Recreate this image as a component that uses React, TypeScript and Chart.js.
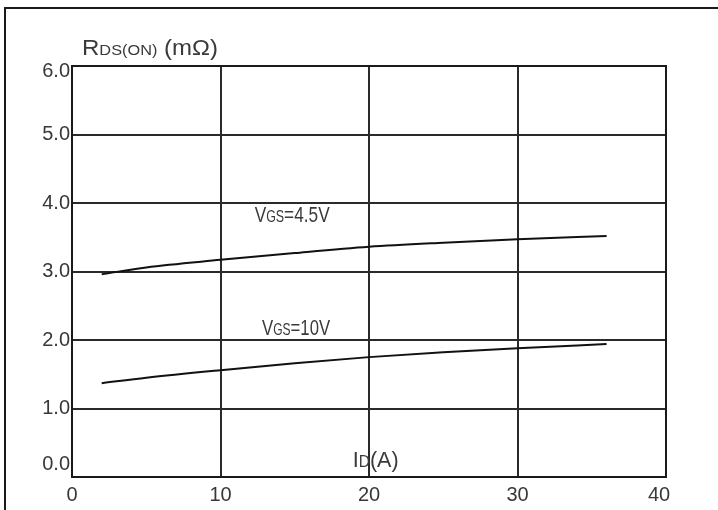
import React, { useEffect, useRef } from "react";
import { Chart, registerables } from "chart.js";

Chart.register(...registerables);

const xCurrent = [2, 5, 10, 15, 20, 25, 30, 36];
const rds45 = [2.96, 3.06, 3.17, 3.27, 3.36, 3.42, 3.47, 3.52];
const rds10 = [1.37, 1.45, 1.56, 1.66, 1.75, 1.82, 1.88, 1.94];
const xTicks = [0, 10, 20, 30, 40];
const yTicks = [0, 1, 2, 3, 4, 5, 6];

type Run = { t: string; s: number };
const titleRuns: Run[] = [
  { t: "R", s: 1 },
  { t: "DS(ON)", s: 0.68 },
  { t: " (mΩ)", s: 1 },
];
const label45: Run[] = [
  { t: "V", s: 1 },
  { t: "GS", s: 0.72 },
  { t: "=4.5V", s: 1 },
];
const label10: Run[] = [
  { t: "V", s: 1 },
  { t: "GS", s: 0.72 },
  { t: "=10V", s: 1 },
];
const labelId: Run[] = [
  { t: "I", s: 1 },
  { t: "D", s: 0.72 },
  { t: "(A)", s: 1 },
];

const FONT = "'Liberation Sans', Arial, sans-serif";
const TEXT = "#3a3a3a";

function drawRuns(ctx: CanvasRenderingContext2D, runs: Run[], x: number, y: number, size: number, width: number) {
  ctx.save();
  ctx.fillStyle = TEXT;
  ctx.textBaseline = "alphabetic";
  ctx.textAlign = "left";
  let natural = 0;
  for (const r of runs) {
    ctx.font = `${size * r.s}px ${FONT}`;
    natural += ctx.measureText(r.t).width;
  }
  ctx.translate(x, y);
  ctx.scale(width / natural, 1.12);
  let cx = 0;
  for (const r of runs) {
    ctx.font = `${size * r.s}px ${FONT}`;
    ctx.fillText(r.t, cx, 0);
    cx += ctx.measureText(r.t).width;
  }
  ctx.restore();
}

const annotations = {
  id: "annotations",
  beforeDraw(chart: any) {
    const ctx = chart.ctx as CanvasRenderingContext2D;
    ctx.save();
    ctx.fillStyle = "#ffffff";
    ctx.fillRect(0, 0, chart.width, chart.height);
    ctx.strokeStyle = "#1a1a1a";
    ctx.lineWidth = 2;
    ctx.beginPath();
    ctx.moveTo(5, chart.height);
    ctx.lineTo(5, 8);
    ctx.lineTo(chart.width, 8);
    ctx.stroke();
    ctx.restore();
    // nudge end tick labels as in the reference
    const yItems = chart.scales.y.getLabelItems();
    yItems.forEach((it: any) => {
      if (it.label === "0.0") it.options.translation[1] -= 13;
      if (it.label === "6.0") it.options.translation[1] += 5;
    });
    const xItems = chart.scales.x.getLabelItems();
    xItems.forEach((it: any) => {
      if (it.label === "40") it.options.translation[0] -= 7;
    });
  },
  afterDraw(chart: any) {
    const ctx = chart.ctx as CanvasRenderingContext2D;
    const xs = chart.scales.x;
    const ys = chart.scales.y;
    const a = chart.chartArea;
    ctx.save();
    ctx.strokeStyle = "#1a1a1a";
    ctx.lineWidth = 2;
    ctx.strokeRect(a.left, a.top, a.right - a.left, a.bottom - a.top);
    ctx.restore();
    drawRuns(ctx, titleRuns, a.left + 10, a.top - 11, 20, 136);
    drawRuns(ctx, label45, xs.getPixelForValue(12.3), ys.getPixelForValue(3.72), 20, 75);
    drawRuns(ctx, label10, xs.getPixelForValue(12.8), ys.getPixelForValue(2.07), 20, 68);
    drawRuns(ctx, labelId, xs.getPixelForValue(18.9), ys.getPixelForValue(0.15), 20, 46);
  },
};

export default function App() {
  const ref = useRef<HTMLCanvasElement | null>(null);
  useEffect(() => {
    if (!ref.current) return;
    const chart = new Chart(ref.current, {
      type: "line",
      data: {
        datasets: [
          {
            label: "VGS=4.5V",
            data: xCurrent.map((x, i) => ({ x, y: rds45[i] })),
            borderColor: "#111111",
            borderWidth: 2,
            pointRadius: 0,
            cubicInterpolationMode: "monotone",
          },
          {
            label: "VGS=10V",
            data: xCurrent.map((x, i) => ({ x, y: rds10[i] })),
            borderColor: "#111111",
            borderWidth: 2,
            pointRadius: 0,
            cubicInterpolationMode: "monotone",
          },
        ],
      },
      options: {
        animation: false,
        responsive: false,
        maintainAspectRatio: false,
        layout: { padding: { left: 0, top: 66, right: 52, bottom: 0 } },
        plugins: { legend: { display: false }, tooltip: { enabled: false } },
        scales: {
          x: {
            type: "linear",
            min: 0,
            max: 40,
            afterBuildTicks: (s: any) => {
              s.ticks = xTicks.map((v) => ({ value: v }));
            },
            afterFit: (s: any) => {
              s.height = 33;
            },
            grid: { color: "#2a2a2a", lineWidth: 2, drawTicks: false },
            border: { display: false },
            ticks: {
              color: "#383838",
              font: { family: FONT, size: 20 },
              padding: 6,
              maxRotation: 0,
              callback: (v: any) => String(v),
            },
          },
          y: {
            type: "linear",
            min: 0,
            max: 6,
            afterBuildTicks: (s: any) => {
              s.ticks = yTicks.map((v) => ({ value: v }));
            },
            afterFit: (s: any) => {
              s.width = 72;
            },
            grid: { color: "#2a2a2a", lineWidth: 2, drawTicks: false },
            border: { display: false },
            ticks: {
              color: "#383838",
              font: { family: FONT, size: 20 },
              padding: 2,
              callback: (v: any) => Number(v).toFixed(1),
            },
          },
        },
      },
      plugins: [annotations],
    } as any);
    return () => chart.destroy();
  }, []);
  return (
    <div style={{ position: "fixed", left: 0, top: 0, width: 718, height: 510, background: "#fff" }}>
      <canvas ref={ref} width={718} height={510} style={{ display: "block", width: 718, height: 510 }} />
    </div>
  );
}
